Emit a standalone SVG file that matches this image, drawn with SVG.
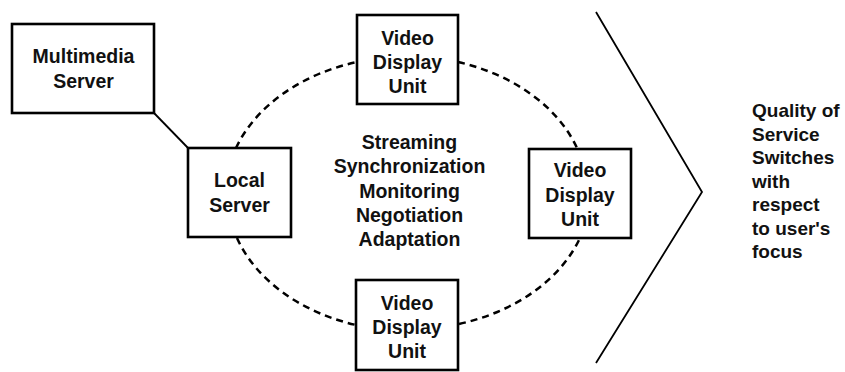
<svg xmlns="http://www.w3.org/2000/svg" width="845" height="372" viewBox="0 0 845 372">
<style>
.box{fill:#fff;stroke:#000;stroke-width:2.6}
.t{font-family:"Liberation Sans",Arial,sans-serif;font-weight:bold;font-size:19.5px;fill:#111;text-anchor:middle}
.q{font-family:"Liberation Sans",Arial,sans-serif;font-weight:bold;font-size:19px;fill:#111}
.dash{fill:none;stroke:#000;stroke-width:2.5;stroke-dasharray:7 5}
.line{fill:none;stroke:#000;stroke-width:1.8}
</style>
<rect width="845" height="372" fill="#fff"/>
<g id="connectors">
<line class="line" x1="154" y1="113" x2="189" y2="149"/>
<path class="dash" d="M236,148 A182,137 0 0 1 357,62"/>
<path class="dash" d="M458,62 A182,137 0 0 1 577,148"/>
<path class="dash" d="M237,238 A182,137 0 0 0 356,325"/>
<path class="dash" d="M459,324 A182,137 0 0 0 580,238"/>
<polyline class="line" points="596,12 702,192 596,363"/>
</g>
<g id="multimedia-server">
<rect class="box" x="12" y="24" width="142" height="89"/>
<text class="t" x="83.5" y="63">Multimedia</text>
<text class="t" x="83.5" y="88">Server</text>
</g>
<g id="local-server">
<rect class="box" x="188" y="148" width="103" height="89"/>
<text class="t" x="239.5" y="187">Local</text>
<text class="t" x="239.5" y="212">Server</text>
</g>
<g id="vdu-top">
<rect class="box" x="357" y="15" width="101" height="89"/>
<text class="t" x="407.5" y="45">Video</text>
<text class="t" x="407.5" y="69">Display</text>
<text class="t" x="407.5" y="93">Unit</text>
</g>
<g id="vdu-right">
<rect class="box" x="529" y="149" width="102" height="89"/>
<text class="t" x="580" y="177">Video</text>
<text class="t" x="580" y="201.5">Display</text>
<text class="t" x="580" y="226">Unit</text>
</g>
<g id="vdu-bottom">
<rect class="box" x="356" y="280" width="102" height="90"/>
<text class="t" x="407" y="310">Video</text>
<text class="t" x="407" y="334">Display</text>
<text class="t" x="407" y="358">Unit</text>
</g>
<g id="functions">
<text class="t" x="409.5" y="149">Streaming</text>
<text class="t" x="409.5" y="173">Synchronization</text>
<text class="t" x="409.5" y="198">Monitoring</text>
<text class="t" x="409.5" y="222">Negotiation</text>
<text class="t" x="409.5" y="246">Adaptation</text>
</g>
<g id="qos">
<text class="q" x="752" y="117">Quality of</text>
<text class="q" x="752" y="140.5">Service</text>
<text class="q" x="752" y="164">Switches</text>
<text class="q" x="752" y="187.5">with</text>
<text class="q" x="752" y="211">respect</text>
<text class="q" x="752" y="234.5">to user's</text>
<text class="q" x="752" y="258">focus</text>
</g>
</svg>
